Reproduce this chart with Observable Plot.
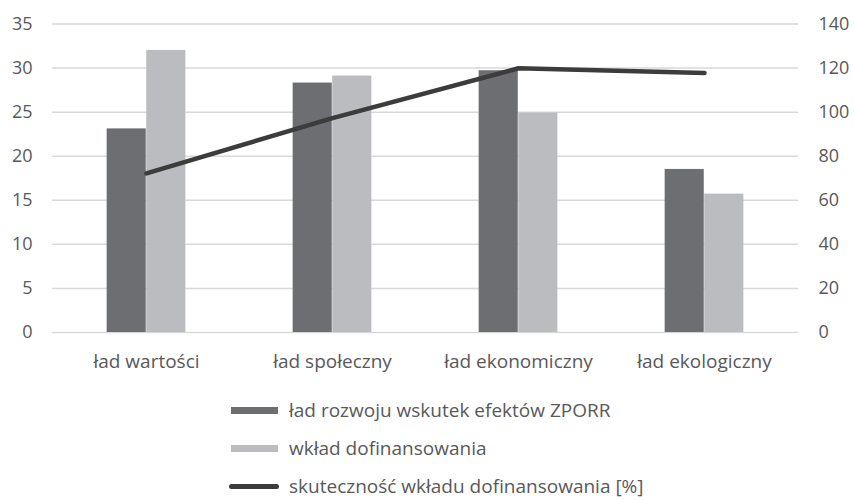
<!DOCTYPE html>
<html><head><meta charset="utf-8">
<script src="https://cdn.jsdelivr.net/npm/d3@7"></script>
<script src="https://cdn.jsdelivr.net/npm/@observablehq/plot@0.6"></script>
<style>
body{margin:0;background:#fff;font-family:"Open Sans",sans-serif;overflow:hidden;}
#legend{position:absolute;left:231px;top:391px;color:#595959;font-size:19px;line-height:1;}
.row{display:flex;align-items:center;height:38px;}
.sw{width:47px;height:7px;margin-right:11px;flex:none;}
.ln{width:50px;height:5px;border-radius:3px;margin-left:-2px;margin-right:10px;flex:none;}
</style></head><body><div id="chart"></div><div id="legend"></div>
<script>
const categories = ["ład wartości", "ład społeczny", "ład ekonomiczny", "ład ekologiczny"];
const rozwoj = [23.1, 28.3, 29.7, 18.5];
const wklad = [32.0, 29.1, 24.9, 15.7];
const skutecznosc = [72.2, 97.3, 119.9, 117.8];
const leftTicks = [0, 5, 10, 15, 20, 25, 30, 35];
const rightTicks = [0, 20, 40, 60, 80, 100, 120, 140];
const seriesNames = ["ład rozwoju wskutek efektów ZPORR", "wkład dofinansowania", "skuteczność wkładu dofinansowania [%]"];
const colors = ["#6d6e71", "#bbbcbf", "#3c3c3c"];

const ratio = 35 / 140;
const bars1 = categories.map((c, i) => ({c, v: rozwoj[i]}));
const bars2 = categories.map((c, i) => ({c, v: wklad[i]}));
const line = categories.map((c, i) => ({c, v: skutecznosc[i] * ratio}));

const width = 854, mL = 52, mR = 56;
const step = (width - mL - mR) / categories.length;
const barW = 39.6;
const half = step / 2;

const chart = Plot.plot({
  width, height: 376,
  marginLeft: mL, marginRight: mR, marginTop: 23.5, marginBottom: 44,
  style: {fontSize: "18px", fontFamily: "Open Sans", color: "#595959", background: "#fff"},
  x: {domain: categories, padding: 0, label: null},
  y: {domain: [0, 35], label: null},
  marks: [
    Plot.gridY(leftTicks, {stroke: "#d9d9d9", strokeOpacity: 1, strokeWidth: 1.5}),
    Plot.barY(bars1, {x: "c", y: "v", fill: colors[0], insetLeft: half - barW, insetRight: half}),
    Plot.barY(bars2, {x: "c", y: "v", fill: colors[1], insetLeft: half, insetRight: half - barW}),
    Plot.lineY(line, {x: "c", y: "v", stroke: colors[2], strokeWidth: 4.5, strokeLinecap: "round", strokeLinejoin: "round"}),
    Plot.axisY(leftTicks, {anchor: "left", tickSize: 0, tickPadding: 20, label: null}),
    Plot.axisY(rightTicks.map(t => t * ratio), {anchor: "right", tickSize: 0, tickPadding: 20, label: null, tickFormat: d => String(Math.round(d / ratio))}),
    Plot.axisX({tickSize: 0, tickPadding: 22, label: null, fontSize: "19px"})
  ]
});
document.getElementById("chart").appendChild(chart);

const lg = document.getElementById("legend");
seriesNames.forEach((n, i) => {
  const r = document.createElement("div"); r.className = "row";
  const s = document.createElement("div"); s.className = i === 2 ? "ln" : "sw"; s.style.background = colors[i];
  const t = document.createElement("span"); t.textContent = n;
  r.appendChild(s); r.appendChild(t); lg.appendChild(r);
});
</script></body></html>
